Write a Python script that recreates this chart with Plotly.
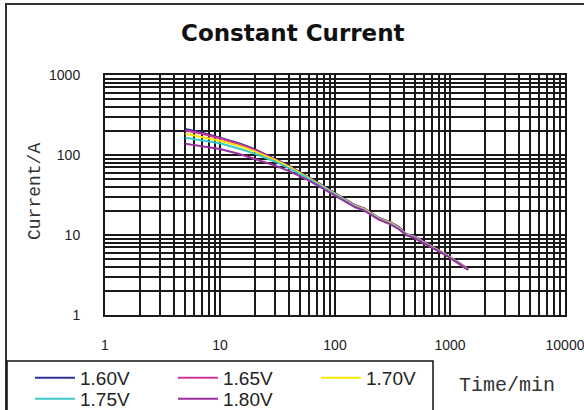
import plotly.graph_objects as go

# ---- data ----
time_min = [5, 7, 10, 15, 20, 30, 40, 60, 80, 100, 120, 150, 180, 210, 240, 300, 360, 420, 480, 600, 720, 900, 1200, 1440]

cur_160 = [212, 190, 165, 138, 118, 90, 73, 52, 40.5, 33, 28.5, 23.5, 21.5, 18.6, 16.4, 14.6, 12.6, 10.2, 9.8, 8.2, 7.0, 5.9, 4.5, 3.75]
cur_165 = [203, 184, 161, 135, 116, 89, 72, 51.5, 40, 32.6, 28.2, 23.2, 21.2, 18.4, 16.2, 14.4, 12.4, 10.1, 9.7, 8.1, 6.95, 5.85, 4.45, 3.72]
cur_170 = [184, 168, 151, 129, 111, 87, 71, 51, 39.6, 32.4, 28, 23, 21, 18.3, 16.1, 14.3, 12.2, 10.1, 9.6, 8.0, 6.9, 5.8, 4.42, 3.7]
cur_175 = [164, 152, 140, 119, 104, 83, 68, 50, 39, 32, 27.6, 22.7, 20.6, 18, 15.9, 14, 12, 10, 9.5, 7.9, 6.85, 5.75, 4.4, 3.68]
cur_180 = [138, 129, 119, 102, 90, 74, 63, 47.5, 37.5, 31, 27, 22.2, 20.2, 17.7, 15.6, 13.7, 11.8, 9.9, 9.3, 7.8, 6.8, 5.7, 4.35, 3.65]

series_names = ["1.60V", "1.65V", "1.70V", "1.75V", "1.80V"]
series_values = [cur_160, cur_165, cur_170, cur_175, cur_180]
series_colors = ["#2E3192", "#D4339A", "#FFE800", "#3CC8C8", "#9B2F9E"]
series_legend = ["legend", "legend", "legend", "legend2", "legend2"]

tick_vals_x = [1, 10, 100, 1000, 10000]
tick_text_x = ["1", "10", "100", "1000", "10000"]
tick_vals_y = [1, 10, 100, 1000]
tick_text_y = ["1", "10", "100", "1000"]

# ---- figure ----
W, H = 584, 410
L, R, T, B = 105, 19, 75, 95
pw, ph = W - L - R, H - T - B


def px_x(p):
    return (p - L) / pw


def px_y(p):
    return (H - B - p) / ph


fig = go.Figure()
for name, vals, col, lg in zip(series_names, series_values, series_colors, series_legend):
    fig.add_trace(go.Scatter(x=time_min, y=vals, mode="lines", name=name, legend=lg,
                             line=dict(color=col, width=2)))

grid_col = "#1a1a1a"
tick_font = dict(family="Liberation Sans", size=14, color="#222")
fig.update_xaxes(type="log", range=[0, 4], tickvals=tick_vals_x, ticktext=tick_text_x,
                 showgrid=True, gridcolor=grid_col, gridwidth=1.6,
                 minor=dict(showgrid=True, gridcolor=grid_col, gridwidth=1.6, dtick="D1"),
                 showline=True, linecolor=grid_col, linewidth=2, mirror=True,
                 ticks="", ticklabelstandoff=16, ticklabeloverflow="allow",
                 zeroline=False, automargin=False, tickfont=tick_font)
fig.update_yaxes(type="log", range=[0, 3], tickvals=tick_vals_y, ticktext=tick_text_y,
                 showgrid=True, gridcolor=grid_col, gridwidth=1.6,
                 minor=dict(showgrid=True, gridcolor=grid_col, gridwidth=1.6, dtick="D1"),
                 showline=True, linecolor=grid_col, linewidth=2, mirror=True,
                 ticks="", ticklabelstandoff=20, zeroline=False, automargin=False,
                 tickfont=tick_font)

legend_common = dict(orientation="h", xanchor="left", yanchor="middle",
                     entrywidth=88, entrywidthmode="pixels", itemwidth=40, tracegroupgap=0,
                     font=dict(family="Liberation Sans", size=19, color="#222"),
                     bgcolor="rgba(0,0,0,0)", borderwidth=0, itemclick=False)

fig.update_layout(
    width=W, height=H,
    margin=dict(l=L, r=R, t=T, b=B, autoexpand=False),
    paper_bgcolor="white", plot_bgcolor="white",
    showlegend=True,
    legend=dict(x=px_x(30), y=px_y(378), **legend_common),
    legend2=dict(x=px_x(30), y=px_y(399), **legend_common),
    shapes=[
        # outer frame
        dict(type="rect", xref="paper", yref="paper",
             x0=px_x(6), x1=px_x(600), y0=px_y(430), y1=px_y(4),
             line=dict(color="#333", width=2), fillcolor="rgba(0,0,0,0)", layer="below"),
        # legend frame
        dict(type="rect", xref="paper", yref="paper",
             x0=px_x(7), x1=px_x(433), y0=px_y(430), y1=px_y(361),
             line=dict(color="#111", width=1.5), fillcolor="rgba(0,0,0,0)", layer="above"),
    ],
    annotations=[
        dict(text="<b>Constant Current</b>", xref="paper", yref="paper",
             x=px_x(293), y=px_y(33), xanchor="center", yanchor="middle", showarrow=False,
             font=dict(family="DejaVu Sans", size=23, color="#111")),
        dict(text="Current/A", xref="paper", yref="paper",
             x=px_x(35), y=px_y(192), xanchor="center", yanchor="middle", showarrow=False,
             textangle=-90, font=dict(family="Liberation Mono", size=18, color="#333")),
        dict(text="Time/min", xref="paper", yref="paper",
             x=px_x(507), y=px_y(385), xanchor="center", yanchor="middle", showarrow=False,
             font=dict(family="Liberation Mono", size=20, color="#333")),
    ],
)

fig.write_html("out.html", config={"displayModeBar": False},
               post_script="document.body.style.margin='0px';")
